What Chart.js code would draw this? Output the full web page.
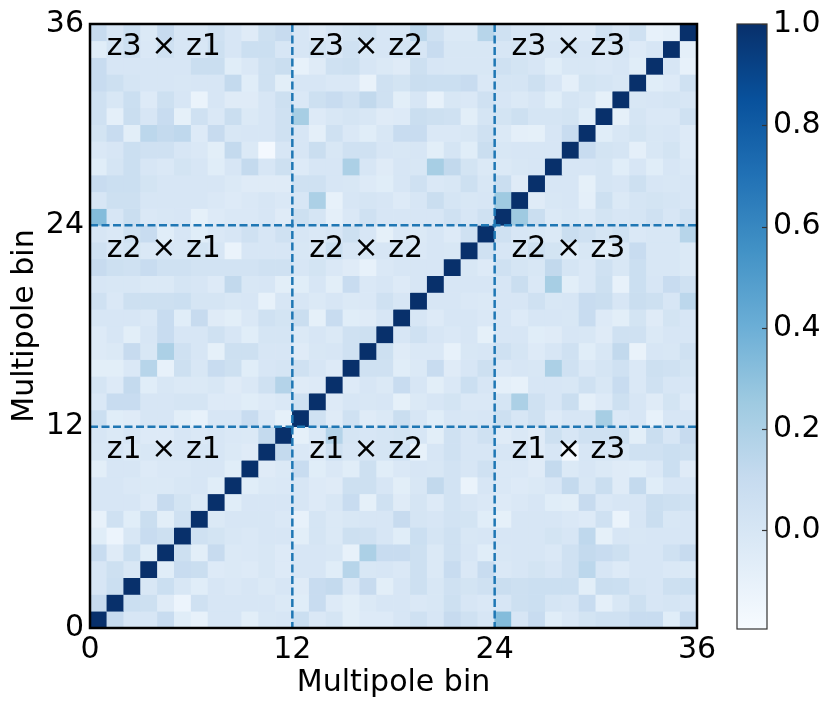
<!DOCTYPE html>
<html>
<head>
<meta charset="utf-8">
<script src="https://cdn.jsdelivr.net/npm/chart.js@4.4.1/dist/chart.umd.min.js"></script>
<style>
  html, body { margin: 0; padding: 0; background: #fff; }
  #wrap { position: relative; width: 831px; height: 710px; }
  canvas { position: absolute; left: 0; top: 0; }
</style>
</head>
<body>
<div id="wrap">
  <canvas id="matrix" width="831" height="710"></canvas>
  <canvas id="cbar" width="831" height="710"></canvas>
</div>
<script>
// number of multipole bins, three redshift blocks of 12
const nBins = 36;
const binTicks = [0, 12, 24, 36];
const blockEdges = [12, 24];
const blockNames = ['z1', 'z2', 'z3'];
const cbTicks = [0.0, 0.2, 0.4, 0.6, 0.8, 1.0];
const vMin = -0.195;
const vMax = 1.0;

// lower triangle of the correlation matrix (row r, columns 0..r-1), diagonal is 1
const lowerTri = [
  [],
  [0.10],
  [0.00, 0.07],
  [0.00, 0.06, -0.01],
  [0.09, -0.05, 0.07, -0.06],
  [-0.06, -0.13, -0.01, 0.09, 0.06],
  [-0.10, 0.05, -0.06, 0.08, -0.07, 0.05],
  [0.00, 0.00, 0.00, -0.04, 0.10, 0.02, -0.03],
  [0.00, 0.00, -0.02, -0.03, -0.03, -0.01, 0.00, -0.06],
  [-0.07, 0.00, 0.00, -0.04, -0.02, -0.02, 0.00, 0.00, -0.06],
  [-0.01, 0.00, -0.03, -0.01, -0.01, 0.00, 0.00, 0.00, -0.03, -0.05],
  [0.00, -0.03, 0.00, -0.04, -0.04, 0.00, -0.02, 0.00, -0.02, -0.03, 0.11],
  [0.07, -0.06, -0.05, 0.00, 0.00, -0.07, -0.10, 0.00, 0.00, 0.09, -0.02, -0.09],
  [-0.02, 0.09, 0.09, 0.00, 0.00, 0.01, 0.01, -0.04, -0.04, -0.06, -0.04, -0.02, 0.05],
  [0.01, -0.04, 0.11, -0.06, -0.01, -0.03, -0.03, -0.01, -0.05, -0.02, 0.05, 0.17, -0.05, -0.04],
  [-0.07, -0.07, -0.02, 0.16, -0.10, 0.06, -0.01, 0.09, 0.06, -0.06, 0.00, 0.01, 0.05, 0.00, -0.04],
  [-0.04, -0.03, 0.10, -0.01, 0.20, 0.05, 0.00, -0.09, 0.06, 0.06, 0.00, 0.00, -0.05, -0.01, 0.00, 0.05],
  [-0.04, 0.00, -0.07, 0.00, 0.09, 0.00, 0.00, 0.05, 0.00, -0.06, 0.01, 0.01, -0.03, 0.00, -0.03, 0.05, 0.06],
  [0.00, 0.00, 0.00, -0.02, 0.09, -0.06, 0.10, -0.05, -0.07, -0.02, 0.05, 0.02, 0.08, -0.09, 0.09, -0.06, -0.05, 0.00],
  [0.05, -0.02, 0.06, 0.06, 0.06, 0.07, 0.01, 0.01, -0.01, 0.00, -0.10, 0.00, 0.00, -0.03, 0.00, -0.03, -0.02, 0.05, 0.00],
  [0.00, -0.01, -0.01, -0.03, -0.03, 0.01, 0.00, -0.04, 0.12, -0.01, 0.00, -0.07, -0.06, 0.00, -0.07, 0.09, -0.02, 0.00, -0.04, 0.00],
  [0.10, 0.06, 0.05, 0.09, 0.05, 0.05, 0.03, 0.03, 0.03, 0.03, 0.05, 0.05, 0.00, 0.02, -0.02, -0.05, -0.10, -0.02, 0.00, 0.00, 0.00],
  [0.05, 0.00, 0.02, -0.02, 0.00, -0.01, 0.02, 0.00, -0.12, 0.00, 0.00, 0.00, -0.01, -0.02, 0.07, 0.00, -0.01, 0.00, 0.00, -0.02, 0.00, -0.01],
  [0.00, -0.02, 0.05, 0.09, -0.06, 0.00, -0.06, -0.02, 0.00, 0.05, 0.00, 0.05, 0.00, -0.02, 0.00, 0.06, 0.00, -0.09, -0.02, -0.03, 0.00, -0.04, 0.05],
  [0.33, 0.00, 0.08, -0.02, -0.01, 0.00, -0.09, -0.04, -0.02, -0.02, 0.00, -0.05, 0.06, 0.01, -0.08, -0.02, 0.05, 0.00, 0.00, 0.00, 0.00, 0.05, 0.00, 0.05],
  [0.00, 0.06, 0.06, 0.00, 0.00, 0.00, 0.00, -0.02, -0.04, -0.02, 0.00, -0.02, 0.00, 0.20, -0.10, 0.00, 0.01, 0.00, -0.04, 0.00, 0.08, 0.01, -0.01, 0.00, 0.25],
  [0.09, 0.07, 0.07, 0.02, 0.00, 0.00, 0.00, 0.00, -0.03, -0.05, -0.05, -0.05, 0.05, 0.05, 0.00, -0.01, -0.04, -0.06, 0.00, 0.05, -0.02, -0.01, 0.06, -0.01, 0.08, -0.05],
  [-0.06, 0.01, 0.07, 0.00, -0.02, 0.02, 0.00, -0.06, 0.00, 0.11, 0.00, 0.06, -0.04, 0.00, 0.00, 0.20, 0.00, -0.05, 0.00, -0.01, 0.22, 0.12, 0.02, -0.03, -0.03, -0.01, 0.00],
  [-0.02, 0.00, 0.07, 0.05, 0.05, 0.00, -0.02, -0.07, 0.11, -0.03, -0.17, 0.00, 0.00, 0.08, -0.01, 0.05, 0.05, 0.00, -0.01, 0.00, -0.07, 0.01, -0.06, 0.08, -0.01, 0.00, 0.00, 0.00],
  [0.02, 0.09, -0.07, 0.14, 0.11, 0.13, -0.04, 0.10, -0.01, 0.00, 0.00, 0.05, 0.00, -0.08, 0.05, -0.02, -0.06, -0.01, 0.09, 0.09, -0.02, -0.02, -0.01, 0.05, -0.03, -0.08, -0.09, 0.00, 0.09],
  [0.05, -0.08, 0.08, 0.00, 0.09, -0.09, 0.05, -0.02, 0.08, -0.03, 0.00, 0.05, 0.22, -0.04, -0.01, 0.01, -0.01, -0.05, -0.04, 0.08, 0.06, 0.05, -0.07, 0.01, 0.02, 0.06, 0.01, 0.01, 0.02, -0.06],
  [0.05, -0.01, 0.07, -0.04, 0.06, 0.00, -0.12, 0.00, -0.05, -0.05, 0.00, 0.06, -0.02, 0.06, 0.09, 0.05, 0.12, 0.05, -0.07, 0.00, -0.10, -0.01, -0.02, 0.05, 0.00, -0.03, 0.00, -0.06, 0.01, -0.01, -0.09],
  [0.09, 0.06, 0.01, 0.00, 0.00, -0.01, 0.00, 0.00, 0.11, -0.06, 0.05, -0.07, 0.00, 0.00, -0.02, -0.02, -0.11, 0.05, 0.02, 0.08, 0.07, 0.07, 0.09, -0.02, 0.01, 0.01, 0.06, 0.00, -0.08, 0.02, 0.01, -0.01],
  [0.09, 0.00, 0.00, 0.00, 0.00, 0.00, 0.08, 0.08, -0.06, -0.02, 0.05, 0.08, -0.10, -0.05, 0.05, 0.06, 0.00, -0.03, -0.05, 0.06, 0.00, -0.01, -0.01, -0.01, 0.05, 0.02, 0.00, -0.06, -0.01, -0.01, -0.02, 0.00, -0.06],
  [-0.06, 0.01, 0.06, -0.02, 0.05, 0.00, -0.01, 0.06, 0.00, 0.07, 0.07, 0.00, 0.00, 0.02, 0.00, 0.05, -0.01, 0.00, 0.02, 0.00, 0.09, -0.01, -0.01, -0.01, 0.00, 0.01, -0.01, 0.00, 0.02, 0.00, -0.02, 0.01, -0.04, 0.00],
  [0.10, 0.00, 0.07, -0.03, 0.10, 0.00, 0.00, 0.05, 0.00, -0.05, 0.06, 0.10, 0.00, -0.04, 0.00, 0.02, 0.05, 0.00, 0.00, 0.14, 0.05, -0.03, -0.03, 0.16, 0.05, 0.00, 0.00, -0.02, -0.04, -0.04, 0.05, 0.00, 0.05, -0.10, -0.08]
];

// matplotlib "Blues"
const bluesStops = ['#f7fbff', '#deebf7', '#c6dbef', '#9ecae1', '#6baed6', '#4292c6', '#2171b5', '#08519c', '#08306b'];

function hexToRgb(h) {
  return [parseInt(h.slice(1, 3), 16), parseInt(h.slice(3, 5), 16), parseInt(h.slice(5, 7), 16)];
}
const bluesRgb = bluesStops.map(hexToRgb);

function blues(t) {
  t = Math.max(0, Math.min(1, t));
  const p = t * (bluesRgb.length - 1);
  const i = Math.min(Math.floor(p), bluesRgb.length - 2);
  const f = p - i;
  const a = bluesRgb[i], b = bluesRgb[i + 1];
  return 'rgb(' + [0, 1, 2].map(k => Math.round(a[k] + (b[k] - a[k]) * f)).join(',') + ')';
}

function corr(r, c) {
  if (r === c) return 1.0;
  return r > c ? lowerTri[r][c] : lowerTri[c][r];
}

const cells = [];
for (let r = 0; r < nBins; r++) {
  for (let c = 0; c < nBins; c++) {
    cells.push({ x: c + 0.5, y: r + 0.5, v: corr(r, c) });
  }
}

const font30 = { family: 'DejaVu Sans', size: 30 };

function cellRadius(chart) {
  const xs = chart.scales.x;
  const side = xs.getPixelForValue(1) - xs.getPixelForValue(0);
  return (side + 0.6) / Math.SQRT2;
}

const overlay = {
  id: 'overlay',
  afterDatasetsDraw(chart) {
    const { ctx, chartArea: a, scales: { x, y } } = chart;
    ctx.save();
    // block separators
    ctx.strokeStyle = '#1f77b4';
    ctx.lineWidth = 2.5;
    ctx.setLineDash([8, 3.5]);
    blockEdges.forEach(e => {
      const px = x.getPixelForValue(e);
      const py = y.getPixelForValue(e);
      ctx.beginPath();
      ctx.moveTo(px, a.top);
      ctx.lineTo(px, a.bottom);
      ctx.stroke();
      ctx.beginPath();
      ctx.moveTo(a.left, py);
      ctx.lineTo(a.right, py);
      ctx.stroke();
    });
    ctx.setLineDash([]);
    // block names
    ctx.fillStyle = '#000';
    ctx.font = '30px "DejaVu Sans"';
    ctx.textAlign = 'left';
    ctx.textBaseline = 'middle';
    blockNames.forEach((rowName, bi) => {
      blockNames.forEach((colName, bj) => {
        ctx.fillText(rowName + ' \u00d7 ' + colName,
          x.getPixelForValue(bj * 12 + 1), y.getPixelForValue(bi * 12 + 10.6));
      });
    });
    // frame
    ctx.strokeStyle = '#000';
    ctx.lineWidth = 2.5;
    ctx.strokeRect(a.left, a.top, a.right - a.left, a.bottom - a.top);
    ctx.restore();
  }
};

new Chart(document.getElementById('matrix'), {
  type: 'scatter',
  data: {
    datasets: [{
      data: cells,
      pointStyle: 'rect',
      radius: ctx => cellRadius(ctx.chart),
      borderWidth: 0,
      backgroundColor: ctx => blues((ctx.raw.v - vMin) / (vMax - vMin))
    }]
  },
  options: {
    responsive: false,
    animation: false,
    events: [],
    layout: { padding: { top: 21, right: 134, left: 0, bottom: 0 } },
    scales: {
      x: {
        type: 'linear', min: 0, max: nBins,
        afterBuildTicks: s => { s.ticks = binTicks.map(v => ({ value: v })); },
        afterFit: s => { s.height = 82; },
        ticks: { font: font30, color: '#000', padding: 4, maxRotation: 0, autoSkip: false },
        grid: { display: false, drawTicks: false },
        border: { display: false },
        title: { display: true, text: 'Multipole bin', font: font30, color: '#000', padding: { top: 0, bottom: 9 } }
      },
      y: {
        type: 'linear', min: 0, max: nBins,
        afterBuildTicks: s => { s.ticks = binTicks.map(v => ({ value: v })); },
        afterFit: s => { s.width = 90; },
        ticks: { font: font30, color: '#000', padding: 6, autoSkip: false },
        grid: { display: false, drawTicks: false },
        border: { display: false },
        title: { display: true, text: 'Multipole bin', font: font30, color: '#000', padding: { top: 7, bottom: 0 } }
      }
    },
    plugins: { legend: { display: false }, tooltip: { enabled: false } }
  },
  plugins: [overlay]
});

// colour bar
const cbarPaint = {
  id: 'cbarPaint',
  beforeDatasetsDraw(chart) {
    const { ctx, chartArea: a, scales: { y } } = chart;
    const g = ctx.createLinearGradient(0, y.getPixelForValue(vMin), 0, y.getPixelForValue(vMax));
    bluesStops.forEach((col, i) => g.addColorStop(i / (bluesStops.length - 1), col));
    ctx.save();
    ctx.fillStyle = g;
    ctx.fillRect(a.left, a.top, a.right - a.left, a.bottom - a.top);
    ctx.strokeStyle = '#333';
    ctx.lineWidth = 1.2;
    cbTicks.forEach(v => {
      const py = Math.round(y.getPixelForValue(v)) + 0.5;
      ctx.beginPath();
      ctx.moveTo(a.right - 5, py);
      ctx.lineTo(a.right, py);
      ctx.stroke();
    });
    ctx.strokeRect(a.left, a.top, a.right - a.left, a.bottom - a.top);
    ctx.restore();
  }
};

new Chart(document.getElementById('cbar'), {
  type: 'scatter',
  data: { datasets: [{ data: [] }] },
  options: {
    responsive: false,
    animation: false,
    events: [],
    layout: { padding: { top: 21, left: 737, right: 0, bottom: 81 } },
    scales: {
      x: { display: false, min: 0, max: 1 },
      y: {
        position: 'right', min: vMin, max: vMax,
        afterBuildTicks: s => { s.ticks = cbTicks.map(v => ({ value: v })); },
        afterFit: s => { s.width = 64; },
        ticks: { font: font30, color: '#000', padding: 6, callback: v => v.toFixed(1) },
        grid: { display: false, drawTicks: false },
        border: { display: false }
      }
    },
    plugins: { legend: { display: false }, tooltip: { enabled: false } }
  },
  plugins: [cbarPaint]
});
</script>
</body>
</html>
